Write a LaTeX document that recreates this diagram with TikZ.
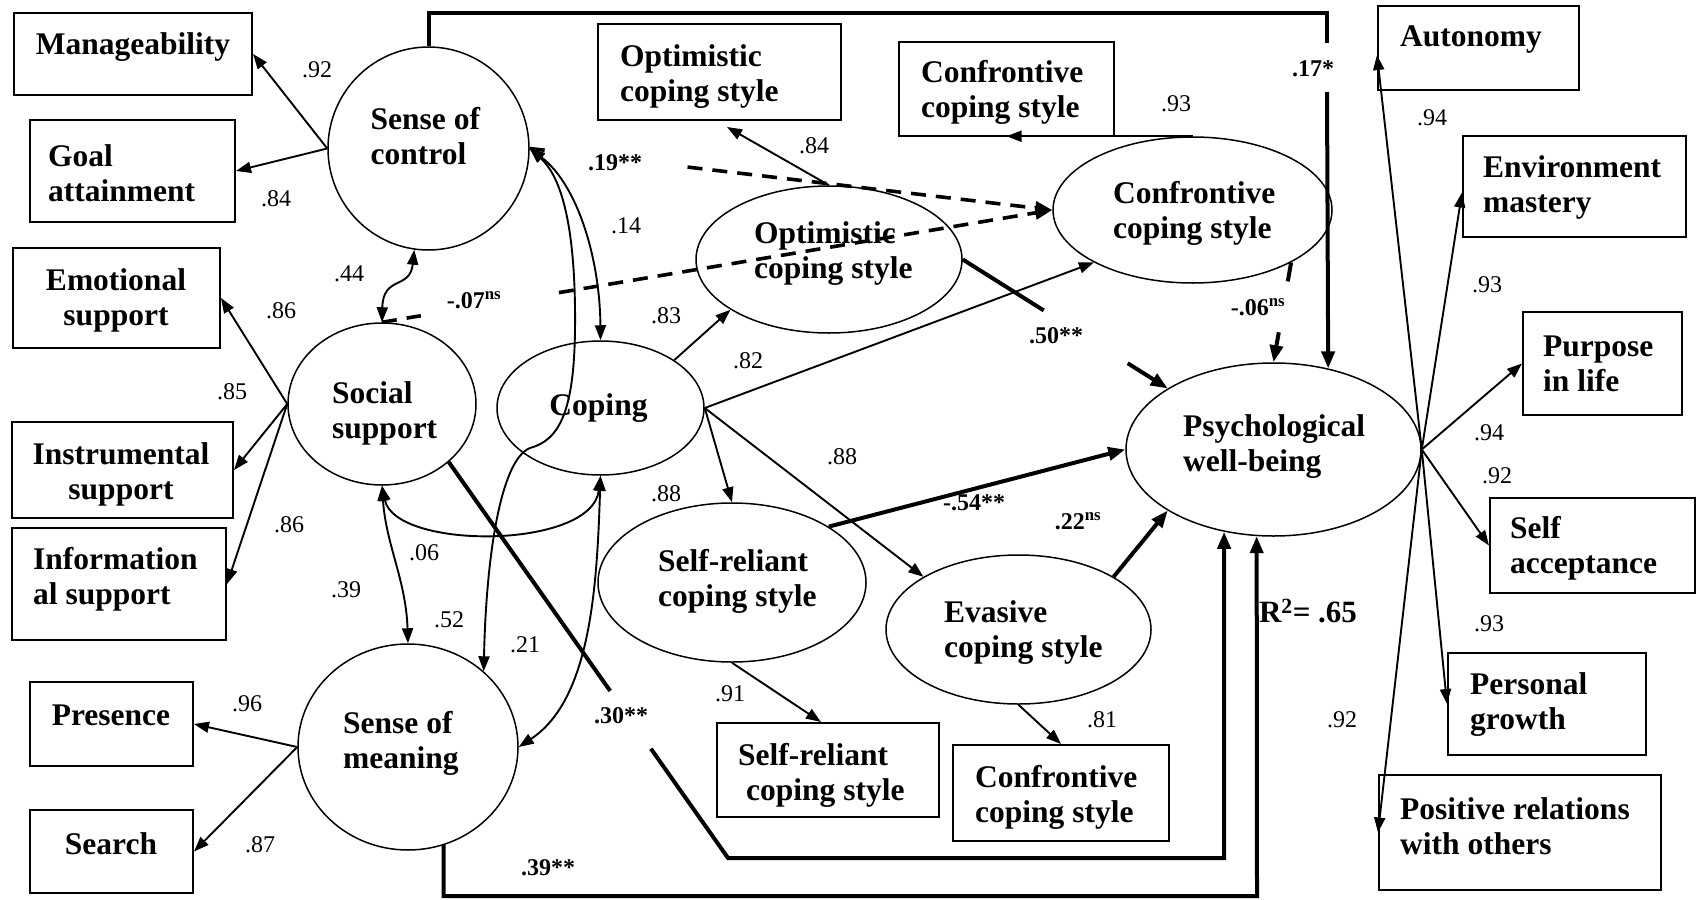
\documentclass[tikz,border=0pt]{standalone}
\usepackage{fontspec}
\setmainfont{Liberation Serif}
\usetikzlibrary{arrows.meta,shapes.geometric,calc}

\begin{document}
\begin{tikzpicture}[x=1pt,y=-1pt,
  boxst/.style={draw, line width=2pt, rectangle, inner sep=0pt},
  latst/.style={draw, line width=1.5pt, ellipse, inner sep=0pt},
  bigtxt/.style={font=\bfseries\fontsize{31.5}{35}\selectfont, inner sep=0pt, align=center},
  bigtxtl/.style={bigtxt, align=left, anchor=west},
  numtxt/.style={font=\fontsize{24}{26}\selectfont, inner sep=0pt},
  coeftxt/.style={font=\bfseries\fontsize{24}{26}\selectfont, inner sep=0pt},
  measarr/.style={line width=1.9pt, -{Triangle[length=15pt,width=11pt]}},
  strongln/.style={line width=4pt},
  strongarr/.style={strongln, -{Triangle[length=17pt,width=13pt]}},
  dashln/.style={line width=3.6pt, dash pattern=on 15pt off 10pt},
  dasharr/.style={dashln, -{Triangle[length=17pt,width=13pt]}},
  corrarr/.style={line width=1.9pt, {Triangle[length=15pt,width=11pt]}-{Triangle[length=15pt,width=11pt]}}
]
\fill[white] (0,0) rectangle (1699,899);
\useasboundingbox (0,0) rectangle (1699,899);

% ---------- indicator boxes ----------
\node[boxst, minimum width=238pt, minimum height=82pt]  (manage)   at (133,54)      {};
\node[boxst, minimum width=205pt, minimum height=102pt] (goal)     at (132.5,171)   {};
\node[boxst, minimum width=207pt, minimum height=100pt] (emo)      at (116.5,298)   {};
\node[boxst, minimum width=221pt, minimum height=96pt]  (instr)    at (122.5,470)   {};
\node[boxst, minimum width=214pt, minimum height=112pt] (info)     at (119,584)     {};
\node[boxst, minimum width=163pt, minimum height=84pt]  (pres)     at (111.5,724)   {};
\node[boxst, minimum width=163pt, minimum height=83pt]  (search)   at (111.5,851.5) {};
\node[boxst, minimum width=243pt, minimum height=96pt]  (optbox)   at (719.5,72)    {};
\node[boxst, minimum width=215pt, minimum height=94pt]  (confbox)  at (1006.5,89)   {};
\node[boxst, minimum width=222pt, minimum height=94pt]  (srbox)    at (828,770)     {};
\node[boxst, minimum width=216pt, minimum height=96pt]  (evbox)    at (1061,793)    {};
\node[boxst, minimum width=201pt, minimum height=84pt]  (auto)     at (1478.5,48)   {};
\node[boxst, minimum width=223pt, minimum height=101pt] (env)      at (1574.5,186.5){};
\node[boxst, minimum width=159pt, minimum height=103pt] (purpose)  at (1602.5,363.5){};
\node[boxst, minimum width=205pt, minimum height=95pt]  (selfacc)  at (1592.5,545.5){};
\node[boxst, minimum width=198pt, minimum height=102pt] (personal) at (1547,704)    {};
\node[boxst, minimum width=282pt, minimum height=115pt] (positive) at (1520,832.5)  {};

% ---------- latent variables ----------
\node[latst, minimum width=201pt, minimum height=203pt] (ctrl) at (428.5,148.5) {};
\node[latst, minimum width=188pt, minimum height=162pt] (soc)  at (382,404)     {};
\node[latst, minimum width=207pt, minimum height=134pt] (cop)  at (600.5,408)   {};
\node[latst, minimum width=220pt, minimum height=206pt] (mean) at (408,747)     {};
\node[latst, minimum width=266pt, minimum height=147pt] (opt)  at (829,259.5)   {};
\node[latst, minimum width=279pt, minimum height=146pt] (conf) at (1192.5,210)  {};
\node[latst, minimum width=295pt, minimum height=173pt] (psy)  at (1273.5,449.5){};
\node[latst, minimum width=268pt, minimum height=159pt] (sr)   at (732,582.5)   {};
\node[latst, minimum width=265pt, minimum height=149pt] (ev)   at (1018.5,629.5){};

% ---------- box texts ----------
\node[bigtxt]  (manage-t)   at (133,47)      {Manageability};
\node[bigtxtl] (goal-t)     at (48,173)      {Goal\\attainment};
\node[bigtxt]  (emo-t)      at (116,300)     {Emotional\\support};
\node[bigtxt]  (instr-t)    at (121,474)     {Instrumental\\support};
\node[bigtxtl] (info-t)     at (33,579)      {Information\\al support};
\node[bigtxt]  (pres-t)     at (111,715)     {Presence};
\node[bigtxt]  (search-t)   at (111,844)     {Search};
\node[bigtxtl] (optbox-t)   at (620,77)      {Optimistic\\coping style};
\node[bigtxtl] (confbox-t)  at (921,92)      {Confrontive\\coping style};
\node[bigtxtl] (srbox-t)    at (738,775)     {Self-reliant\\\hspace*{8pt}coping style};
\node[bigtxtl] (evbox-t)    at (975,797)     {Confrontive\\coping style};
\node[bigtxt]  (auto-t)     at (1471,40)     {Autonomy};
\node[bigtxtl] (env-t)      at (1483,187)    {Environment\\mastery};
\node[bigtxtl] (purpose-t)  at (1543,363.5)  {Purpose\\in life};
\node[bigtxtl] (selfacc-t)  at (1510,548.5)  {Self\\acceptance};
\node[bigtxtl] (personal-t) at (1470,704.5)  {Personal\\growth};
\node[bigtxtl] (positive-t) at (1400,826)    {Positive relations\\with others};

% ---------- latent texts ----------
\node[bigtxtl] (ctrl-t) at (370.5,136.5) {Sense of\\control};
\node[bigtxtl] (soc-t)  at (332,413)     {Social\\support};
\node[bigtxt]  (cop-t)  at (598.5,408)   {Coping};
\node[bigtxtl] (mean-t) at (343,743)     {Sense of\\meaning};
\node[bigtxtl] (opt-t)  at (754,254)     {Optimistic\\coping style};
\node[bigtxtl] (conf-t) at (1113,213)    {Confrontive\\coping style};
\node[bigtxtl] (psy-t)  at (1183,447)    {Psychological\\well-being};
\node[bigtxtl] (sr-t)   at (658,581)     {Self-reliant\\coping style};
\node[bigtxtl] (ev-t)   at (944,633)     {Evasive\\coping style};

% ---------- helper points for routed paths ----------
\coordinate (optin) at (727,127);
\coordinate (k17)  at (1327,13);
\coordinate (g17a) at (1327,43);
\coordinate (g17b) at (1327,92);
\coordinate (k30)  at (728,858);
\coordinate (k39)  at (1257,896);

% ---------- measurement paths ----------
\draw[measarr] (ctrl.180) -- (manage.east);
\draw[measarr] (ctrl.180) -- (goal.east);
\draw[measarr] (soc.180) -- (emo.east);
\draw[measarr] (soc.180) -- (instr.east);
\draw[measarr] (soc.180) -- (info.east);
\draw[measarr] (mean.180) -- (pres.east);
\draw[measarr] (mean.180) -- (search.east);
\draw[measarr] (opt.north) -- (optin);
\draw[measarr] (conf.north) -- (conf.north -| confbox.south);
\draw[measarr] (sr.south) -- ([xshift=-7pt]srbox.north);
\draw[measarr] (ev.south) -- (evbox.north);
\draw[measarr] (psy.east) -- ([yshift=-7pt]auto.west);
\draw[measarr] (psy.east) -- ([yshift=-6pt]env.west);
\draw[measarr] (psy.east) -- (purpose.west);
\draw[measarr] (psy.east) -- (selfacc.west);
\draw[measarr] (psy.east) -- (personal.west);
\draw[measarr] (psy.east) -- (positive.west);

% ---------- coping to its styles ----------
\draw[measarr] (cop.33) -- (opt.207);
\draw[measarr] (cop.east) -- (conf.208);
\draw[measarr] (cop.east) -- (sr.north);
\draw[measarr] (cop.east) -- (ev.151);

% ---------- structural paths to well-being ----------
\draw[strongln] (ctrl.north) |- (k17) -- (g17a);
\draw[strongarr] (g17b) -- (psy.56);
\draw[strongln] (conf.332) -- ($(conf.332)!0.19!(psy.north)$);
\draw[strongarr] ($(conf.332)!0.70!(psy.north)$) -- (psy.north);
\draw[strongln] (opt.east) -- ($(opt.east)!0.395!(psy.150)$);
\draw[strongarr] ($(opt.east)!0.805!(psy.150)$) -- (psy.150);
\draw[strongarr] (sr.30) -- (psy.west);
\draw[strongarr] (ev.29) -- (psy.210);
\draw[strongln] (soc.319) -- ($(soc.319)!0.578!(k30)$);
\draw[strongarr] ($(soc.319)!0.724!(k30)$) -- (k30) -| (psy.239);
\draw[strongarr] (mean.290) |- (k39) -- (psy.259);

% ---------- dashed paths to confrontive style ----------
\draw[dashln] (ctrl.east) -- ($(ctrl.east)!0.046!(conf.west)$);
\draw[dasharr] ($(ctrl.east)!0.302!(conf.west)$) -- (conf.west);
\draw[dashln] (soc.north) -- ($(soc.north)!0.058!(conf.west)$);
\draw[dasharr] ($(soc.north)!0.264!(conf.west)$) -- (conf.west);

% ---------- correlations ----------
\draw[corrarr] (ctrl.262) .. controls (410,290) and (383,275) .. (soc.north);
\draw[corrarr] (ctrl.east) .. controls (578,185) and (600,260) .. (cop.north);
\draw[corrarr] (ctrl.east) .. controls (565,180) and (576,240) .. (575,330)
   .. controls (574,410) and (560,440) .. (530,448)
   .. controls (500,460) and (486,560) .. (mean.45);
\draw[corrarr] (soc.south) .. controls (395,550) and (592,550) .. (cop.south);
\draw[corrarr] (soc.south) .. controls (386,545) and (406,580) .. (mean.north);
\draw[corrarr] (cop.south) .. controls (597,590) and (590,700) .. (mean.east);

% ---------- loadings and correlations ----------
\node[numtxt] (l92a) at (317,70)   {.92};
\node[numtxt] (l84a) at (276,199)  {.84};
\node[numtxt] (l86a) at (281,311)  {.86};
\node[numtxt] (l85)  at (232,392)  {.85};
\node[numtxt] (l86b) at (289,525)  {.86};
\node[numtxt] (l96)  at (247,704)  {.96};
\node[numtxt] (l87)  at (260,845)  {.87};
\node[numtxt] (l84b) at (814,146)  {.84};
\node[numtxt] (l93a) at (1176,104) {.93};
\node[numtxt] (l91)  at (730,694)  {.91};
\node[numtxt] (l81)  at (1102,720) {.81};
\node[numtxt] (l94a) at (1432,118) {.94};
\node[numtxt] (l93b) at (1487,285) {.93};
\node[numtxt] (l94b) at (1489,433) {.94};
\node[numtxt] (l92b) at (1497,476) {.92};
\node[numtxt] (l93c) at (1489,624) {.93};
\node[numtxt] (l92c) at (1342,720) {.92};
\node[numtxt] (l83)  at (666,316)  {.83};
\node[numtxt] (l82)  at (748,361)  {.82};
\node[numtxt] (l88a) at (666,494)  {.88};
\node[numtxt] (l88b) at (842,457)  {.88};
\node[numtxt] (l14)  at (626,226)  {.14};
\node[numtxt] (l44)  at (349,274)  {.44};
\node[numtxt] (l06)  at (424,553)  {.06};
\node[numtxt] (l39)  at (346,590)  {.39};
\node[numtxt] (l52)  at (449,620)  {.52};
\node[numtxt] (l21)  at (525,645)  {.21};

% ---------- path coefficients ----------
\node[coeftxt] (p19) at (615,163)  {.19**};
\node[coeftxt] (p07) at (474,300)  {-.07\textsuperscript{ns}};
\node[coeftxt] (p50) at (1056,336) {.50**};
\node[coeftxt] (p06) at (1258,307) {-.06\textsuperscript{ns}};
\node[coeftxt] (p17) at (1313,69)  {.17*};
\node[coeftxt] (p54) at (974,503)  {-.54**};
\node[coeftxt] (p22) at (1078,521) {.22\textsuperscript{ns}};
\node[coeftxt] (p30) at (621,716)  {.30**};
\node[coeftxt] (p39) at (548,868)  {.39**};
\node[font=\bfseries\fontsize{31}{33}\selectfont, inner sep=0pt] (rsq) at (1308,611) {R\textsuperscript{2}= .65};

\end{tikzpicture}
\end{document}
